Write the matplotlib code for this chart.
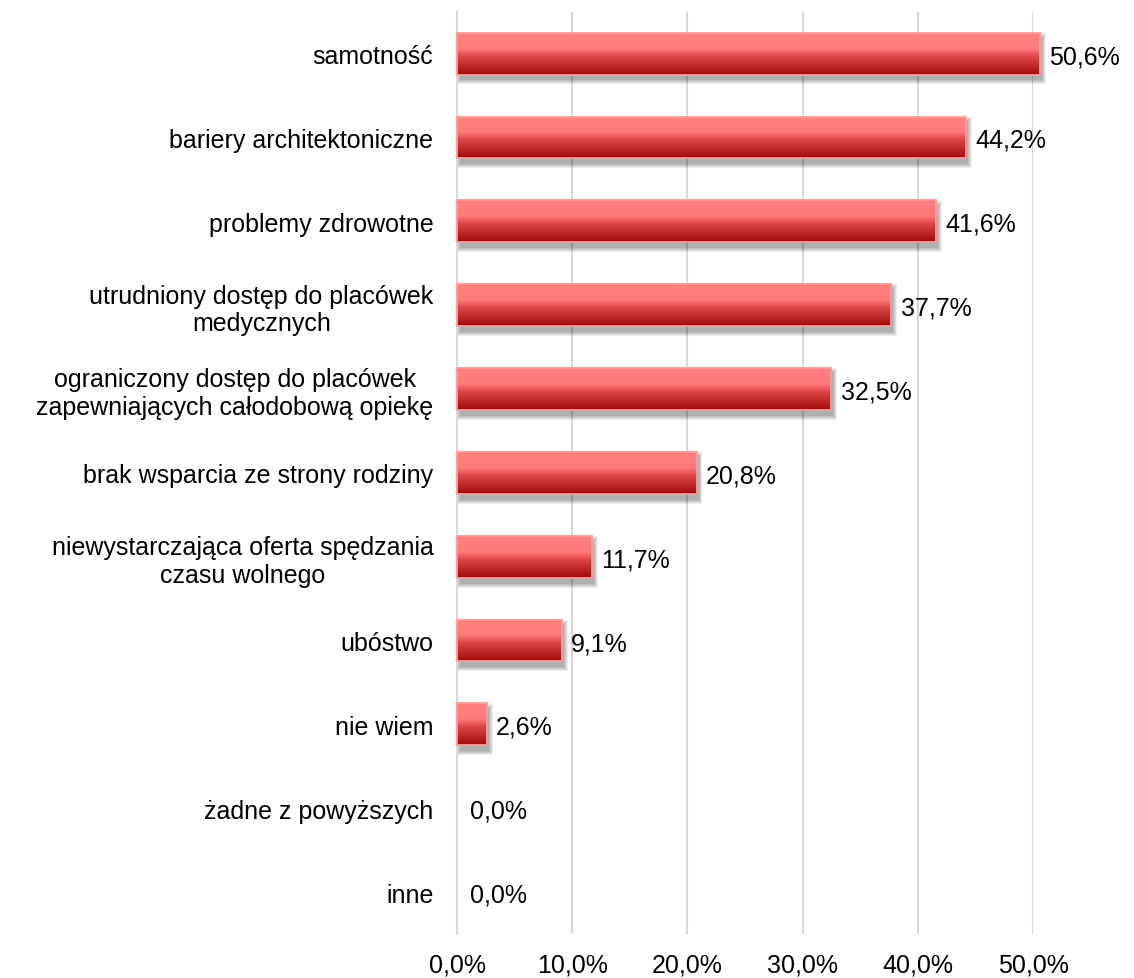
import numpy as np
import matplotlib.pyplot as plt
from matplotlib.colors import LinearSegmentedColormap
from matplotlib.patches import Rectangle

plt.rcParams['font.family'] = ['Liberation Sans', 'DejaVu Sans']

categories = [
    'samotność',
    'bariery architektoniczne',
    'problemy zdrowotne',
    'utrudniony dostęp do placówek\nmedycznych',
    'ograniczony dostęp do placówek\nzapewniających całodobową opiekę',
    'brak wsparcia ze strony rodziny',
    'niewystarczająca oferta spędzania\nczasu wolnego',
    'ubóstwo',
    'nie wiem',
    'żadne z powyższych',
    'inne',
]
values = [50.6, 44.2, 41.6, 37.7, 32.5, 20.8, 11.7, 9.1, 2.6, 0.0, 0.0]
ticks = [0, 10, 20, 30, 40, 50]

def pct(v):
    return f'{v:.1f}%'.replace('.', ',')

fig = plt.figure(figsize=(11.34, 9.79), dpi=100)
ax = fig.add_axes([0.403, 0.045, 0.508, 0.942])

y = np.arange(len(categories))
h = 0.5
fs = 18

# gradient: light salmon on top fading to deep red at the bottom
cmap = LinearSegmentedColormap.from_list(
    'bar', [(0.0, '#a00a0a'), (0.45, '#e04848'), (0.62, '#ff7a7a'), (1.0, '#ff8080')])
grad = np.linspace(1, 0, 256).reshape(-1, 1)

edges = ['#ff9a9a' if v > 0 else 'none' for v in values]
bars = ax.barh(y, values, height=h, color='none', edgecolor=edges,
               linewidth=1.3, zorder=4, clip_on=False)

for rect, v in zip(bars, values):
    if v <= 0:
        continue
    x0, y0 = rect.get_x(), rect.get_y()
    w, hh = rect.get_width(), rect.get_height()
    # soft drop shadow, offset down and to the right
    for k in range(5):
        gx = 0.08 + k * 0.08
        gy = 0.01 + k * 0.012
        s = Rectangle((x0 + 0.2 - gx + 0.1, y0 + 0.06 - gy), w + 2 * gx - 0.2, hh + 2 * gy,
                      facecolor='#000000', edgecolor='none',
                      alpha=0.07, zorder=2, clip_on=False)
        ax.add_patch(s)
    im = ax.imshow(grad, cmap=cmap, aspect='auto', origin='upper',
                   extent=(x0, x0 + w, y0 + hh, y0), zorder=3,
                   interpolation='bilinear')
    im.set_clip_path(rect)

for yi, v in zip(y, values):
    off = 0.8 if v > 0 else 1.1
    ax.text(v + off, yi + 0.03, pct(v), va='center', ha='left',
            fontsize=fs, color='#000000', zorder=5)

ax.set_xlim(0, 50)
ax.set_ylim(len(categories) - 0.5, -0.5)
ax.set_xticks(ticks)
ax.set_xticklabels([pct(t) for t in ticks], fontsize=fs)
ax.set_yticks(y)
ax.set_yticklabels(categories, fontsize=fs, multialignment='center')
ax.tick_params(axis='both', length=0)
ax.tick_params(axis='y', pad=17)
ax.tick_params(axis='x', pad=13)

ax.grid(axis='x', color='#d9d9d9', linewidth=1.5, zorder=0)
ax.set_axisbelow(True)
for side in ['top', 'right', 'bottom']:
    ax.spines[side].set_visible(False)
ax.spines['left'].set_color('#d9d9d9')
ax.spines['left'].set_linewidth(1.5)

fig.savefig('out.png', dpi=100)
